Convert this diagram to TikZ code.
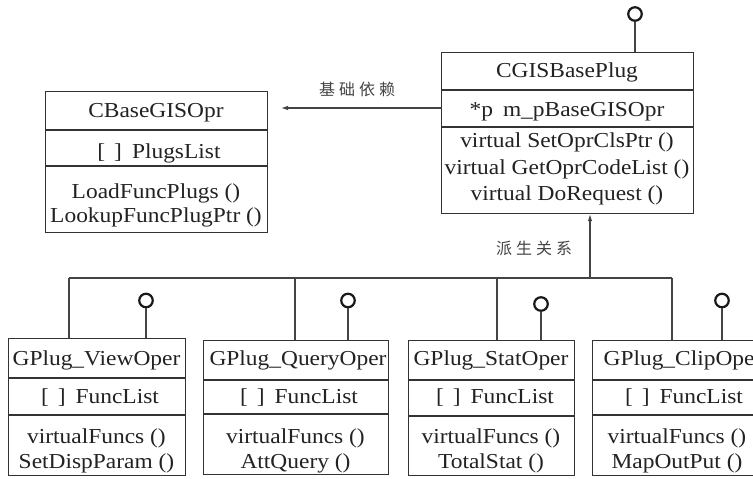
\documentclass[tikz,border=0pt]{standalone}
\usepackage{fontspec}
\setmainfont{Liberation Serif}[FakeStretch=1.1]
\newfontfamily\cjk{Noto Sans CJK SC}
\usetikzlibrary{arrows.meta}
\definecolor{ink}{HTML}{222222}
\definecolor{wirec}{HTML}{444444}
\definecolor{boxc}{HTML}{333333}
\begin{document}
\begin{tikzpicture}[x=1pt,y=-1pt,
  box/.style={draw=boxc, line width=1.1pt, inner sep=0pt, anchor=north west},
  divider/.style={draw=boxc, line width=1.1pt},
  txt/.style={text=ink, font=\fontsize{21.3}{25}\selectfont, inner sep=0pt, anchor=base},
  wire/.style={draw=wirec, line width=1.1pt},
  lolli/.style={circle, draw=black!90, line width=2.2pt, minimum size=13.5pt, inner sep=0pt},
  lab/.style={text=wirec, font=\cjk\fontsize{16}{16}\selectfont, inner sep=0pt},
  tip/.style={-{Latex[length=7pt,width=4.5pt]}}
]
\useasboundingbox (0,0) rectangle (753,479);
\clip (0,0) rectangle (753,479);
\fill[white] (0,0) rectangle (753,479);

% ---------- CBaseGISOpr ----------
\node[box, minimum width=222pt, minimum height=141pt] (A) at (45,91) {};
\draw[divider] (A.west |- 0,130) -- (A.east |- 0,130);
\draw[divider] (A.west |- 0,166) -- (A.east |- 0,166);
\node[txt] (At) at (156,117) {CBaseGISOpr};
\node[txt] (Aa) at (159,158) {[\hspace{9pt}]\hspace{10pt}PlugsList};
\node[txt] (Am1) at (156,198) {LoadFuncPlugs ()};
\node[txt] (Am2) at (156,222) {LookupFuncPlugPtr ()};

% ---------- CGISBasePlug ----------
\node[box, minimum width=252pt, minimum height=161pt] (B) at (441,52) {};
\draw[divider] (B.west |- 0,90) -- (B.east |- 0,90);
\draw[divider] (B.west |- 0,127) -- (B.east |- 0,127);
\node[txt] (Bt) at (567,77) {CGISBasePlug};
\node[txt] (Ba) at (567,116) {*p\hspace{10pt}m\_pBaseGISOpr};
\node[txt] (Bm1) at (567,147) {virtual SetOprClsPtr ()};
\node[txt] (Bm2) at (567,174) {virtual GetOprCodeList ()};
\node[txt] (Bm3) at (567,200) {virtual DoRequest ()};

% lollipop of CGISBasePlug
\node[lolli] (L0) at (635,14) {};
\draw[wire] (L0.south) -- (L0.south |- B.north);

% dependency arrow
\coordinate (dep) at (281,108);
\draw[wire, tip] (B.west |- dep) -- (dep);
\node[lab] (depl) at (357,89.5) {基\hspace{4pt}础\hspace{4pt}依\hspace{4pt}赖};

% ---------- derived classes ----------
\node[box, minimum width=177pt, minimum height=137pt] (C1) at (8,338) {};
\draw[divider] (C1.west |- 0,378) -- (C1.east |- 0,378);
\draw[divider] (C1.west |- 0,415) -- (C1.east |- 0,415);
\node[txt] (C1t) at (96.5,365) {GPlug\_ViewOper};
\node[txt] (C1a) at (100,403) {[\hspace{9pt}]\hspace{10pt}FuncList};
\node[txt] (C1m1) at (96.5,443) {virtualFuncs ()};
\node[txt] (C1m2) at (96.5,468) {SetDispParam ()};

\node[box, minimum width=185pt, minimum height=134pt] (C2) at (203,340) {};
\draw[divider] (C2.west |- 0,380) -- (C2.east |- 0,380);
\draw[divider] (C2.west |- 0,414) -- (C2.east |- 0,414);
\node[txt] (C2t) at (298,365) {GPlug\_QueryOper};
\node[txt] (C2a) at (299,403) {[\hspace{9pt}]\hspace{10pt}FuncList};
\node[txt] (C2m1) at (295.5,443) {virtualFuncs ()};
\node[txt] (C2m2) at (295.5,468) {AttQuery ()};

\node[box, minimum width=166pt, minimum height=135pt] (C3) at (408,340) {};
\draw[divider] (C3.west |- 0,380) -- (C3.east |- 0,380);
\draw[divider] (C3.west |- 0,416) -- (C3.east |- 0,416);
\node[txt] (C3t) at (491,365) {GPlug\_StatOper};
\node[txt] (C3a) at (495,403) {[\hspace{9pt}]\hspace{10pt}FuncList};
\node[txt] (C3m1) at (491,443) {virtualFuncs ()};
\node[txt] (C3m2) at (491,468) {TotalStat ()};

\node[box, minimum width=180pt, minimum height=135pt] (C4) at (592,340) {};
\draw[divider] (C4.west |- 0,380) -- (C4.east |- 0,380);
\draw[divider] (C4.west |- 0,415) -- (C4.east |- 0,415);
\node[txt] (C4t) at (683,365) {GPlug\_ClipOper};
\node[txt] (C4a) at (684,403) {[\hspace{9pt}]\hspace{10pt}FuncList};
\node[txt] (C4m1) at (677,443) {virtualFuncs ()};
\node[txt] (C4m2) at (677,468) {MapOutPut ()};

% lollipops of derived classes
\node[lolli] (L1) at (146,300.5) {};
\draw[wire] (L1.south) -- (L1.south |- C1.north);
\node[lolli] (L2) at (348,300.5) {};
\draw[wire] (L2.south) -- (L2.south |- C2.north);
\node[lolli] (L3) at (541,304) {};
\draw[wire] (L3.south) -- (L3.south |- C3.north);
\node[lolli] (L4) at (722,300.5) {};
\draw[wire] (L4.south) -- (L4.south |- C4.north);

% inheritance bus
\coordinate (j1) at (69,278);
\coordinate (j2) at (295,278);
\coordinate (j3) at (497,278);
\coordinate (j4) at (672,278);
\coordinate (jb) at (590,278);
\draw[wire] (j1) -- (j4);
\draw[wire] (j1) -- (j1 |- C1.north);
\draw[wire] (j2) -- (j2 |- C2.north);
\draw[wire] (j3) -- (j3 |- C3.north);
\draw[wire] (j4) -- (j4 |- C4.north);
\draw[wire, tip] (jb) -- (jb |- B.south);
\node[lab] (derl) at (534,248) {派\hspace{4pt}生\hspace{4pt}关\hspace{4pt}系};
\end{tikzpicture}
\end{document}
